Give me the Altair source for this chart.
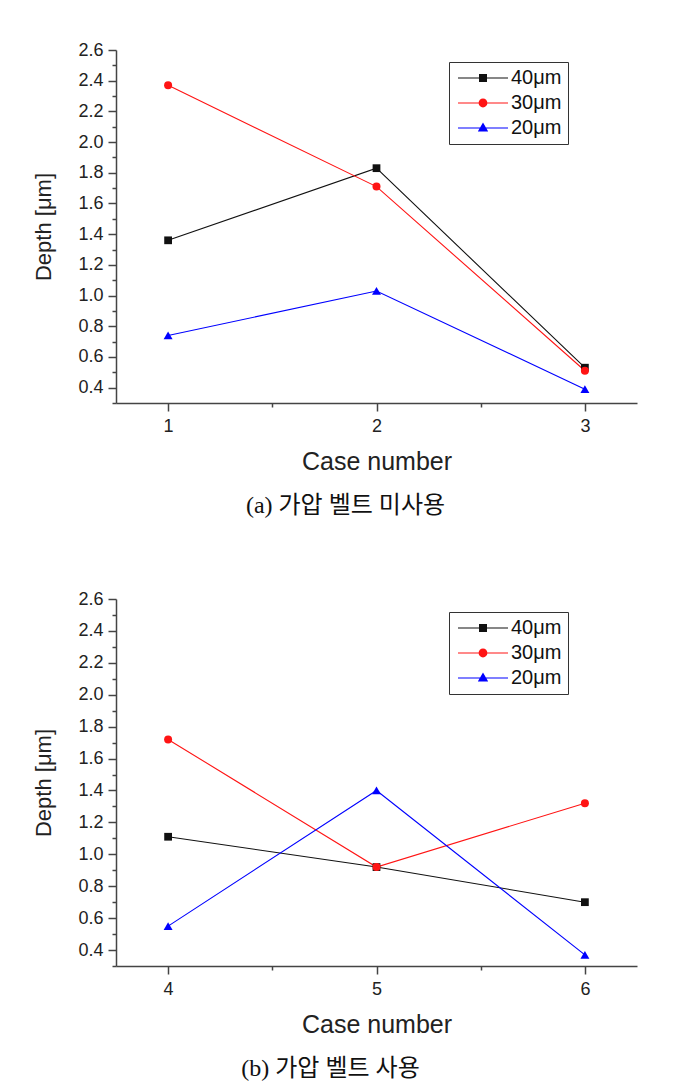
import altair as alt
import pandas as pd

# ---------------- data ----------------
series = ["40μm", "30μm", "20μm"]
series_colors = ["#111111", "#ff1414", "#0000ff"]
marker_shapes = ["square", "circle", "triangle-up"]
marker_sizes = [60, 64, 80]
# legend symbol: a thin horizontal bar (the line) plus the marker
legend_shapes = [
    "M-6.25,-0.14H6.25V0.14H-6.25ZM-1,-1H1V1H-1Z",
    "M-6.25,-0.14H6.25V0.14H-6.25ZM1.1,0A1.1,1.1,0,1,1,-1.1,0A1.1,1.1,0,1,1,1.1,0Z",
    "M-6.25,-0.14H6.25V0.14H-6.25ZM0,-1.35L1.3,0.9H-1.3Z",
]

cases_a = [1, 2, 3]
depth_a_40 = [1.36, 1.83, 0.53]
depth_a_30 = [2.37, 1.71, 0.51]
depth_a_20 = [0.74, 1.03, 0.39]

cases_b = [4, 5, 6]
depth_b_40 = [1.11, 0.92, 0.70]
depth_b_30 = [1.72, 0.92, 1.32]
depth_b_20 = [0.55, 1.40, 0.37]

x_domain_a = [0.75, 3.25]
x_domain_b = [3.75, 6.25]
x_minor_a = [1.5, 2.5]
x_minor_b = [4.5, 5.5]

y_domain = [0.3, 2.6]
y_major = [0.4, 0.6, 0.8, 1.0, 1.2, 1.4, 1.6, 1.8, 2.0, 2.2, 2.4, 2.6]
y_minor = [0.3, 0.5, 0.7, 0.9, 1.1, 1.3, 1.5, 1.7, 1.9, 2.1, 2.3, 2.5]

caption_a = "(a) 가압 벨트 미사용"
caption_b = "(b) 가압 벨트 사용"

SANS = "Liberation Sans"
SERIF = "Liberation Serif, Noto Sans CJK KR"
AX = "#444444"
TXT = "#222222"


def panel(cases, d40, d30, d20, xdom, xminor, height, caption, cap_dx, leg_y):
    df = pd.DataFrame({
        "case": cases * 3,
        "depth": d40 + d30 + d20,
        "series": [s for s in series for _ in cases],
    })
    xs = alt.Scale(domain=xdom, nice=False, zero=False)
    ys = alt.Scale(domain=y_domain, nice=False, zero=False)

    x_main = alt.X("case:Q", scale=xs, axis=alt.Axis(
        values=cases, format="d", title="Case number", grid=False, orient="bottom",
        tickSize=8, tickWidth=1.5, tickColor=AX, domainColor=AX, domainWidth=1.5,
        labelFont=SANS, labelFontSize=18, labelColor=TXT, labelPadding=6,
        titleFont=SANS, titleFontSize=25, titleFontWeight="normal", titleColor=TXT,
        titlePadding=14))
    y_main = alt.Y("depth:Q", scale=ys, axis=alt.Axis(
        values=y_major, format=".1f", title="Depth [μm]", grid=False, orient="left",
        tickSize=8, tickWidth=1.5, tickColor=AX, domainColor=AX, domainWidth=1.5,
        labelFont=SANS, labelFontSize=18, labelColor=TXT, labelPadding=5,
        titleFont=SANS, titleFontSize=22, titleFontWeight="normal", titleColor=TXT,
        titlePadding=22))

    base = alt.Chart(df)
    line_layers = []
    pt_layers = []
    for i, (s, c, shp, sz) in enumerate(zip(series, series_colors, marker_shapes, marker_sizes)):
        sub = base.transform_filter(alt.datum.series == s)
        if i == 0:
            line_layers.append(sub.mark_line(strokeWidth=1.1, color=c).encode(x=x_main, y=y_main))
        else:
            line_layers.append(sub.mark_line(strokeWidth=1.1, color=c).encode(
                x=alt.X("case:Q", scale=xs, axis=None),
                y=alt.Y("depth:Q", scale=ys, axis=None)))
        pt_layers.append(
            sub.mark_point(filled=True, size=sz, opacity=1, shape=shp, color=c).encode(
                x=alt.X("case:Q", scale=xs, axis=None),
                y=alt.Y("depth:Q", scale=ys, axis=None),
            )
        )
    minor_x = alt.Chart(pd.DataFrame({"m": xminor})).mark_point(opacity=0).encode(
        x=alt.X("m:Q", scale=xs, axis=alt.Axis(
            values=xminor, labels=False, domain=False, title=None, grid=False,
            orient="bottom", tickSize=4, tickWidth=1.5, tickColor=AX)),
    )
    minor_y = alt.Chart(pd.DataFrame({"m": y_minor})).mark_point(opacity=0).encode(
        y=alt.Y("m:Q", scale=ys, axis=alt.Axis(
            values=y_minor, labels=False, domain=False, title=None, grid=False,
            orient="left", tickSize=4, tickWidth=1.5, tickColor=AX)),
    )
    leg = alt.Legend(
        orient="none", legendX=333, legendY=leg_y, title=None,
        padding=6, strokeColor="#333333", fillColor="white",
        labelFont=SANS, labelFontSize=20, labelColor="#111111",
        symbolSize=64, symbolStrokeWidth=0, symbolOffset=18,
        labelOffset=18, rowPadding=5)
    legend_layer = base.transform_filter("false").mark_point(
        filled=True, size=64, opacity=1).encode(
        color=alt.Color("series:N", scale=alt.Scale(domain=series, range=series_colors),
                        legend=leg),
        shape=alt.Shape("series:N", scale=alt.Scale(domain=series, range=legend_shapes),
                        legend=leg),
    )

    return alt.layer(*line_layers, *pt_layers, minor_x, minor_y, legend_layer).resolve_axis(
        x="independent", y="independent"
    ).properties(
        width=521, height=height,
        title=alt.TitleParams(caption, orient="bottom", anchor="middle", frame="group",
                              font=SERIF, fontSize=24, fontWeight="normal",
                              color="#111111", offset=20, dx=cap_dx),
    )


top = panel(cases_a, depth_a_40, depth_a_30, depth_a_20, x_domain_a, x_minor_a, 353,
            caption_a, -31, 12)
bottom = panel(cases_b, depth_b_40, depth_b_30, depth_b_20, x_domain_b, x_minor_b, 367,
               caption_b, -46, 13)

chart = alt.vconcat(top, bottom, spacing=72).resolve_scale(
    color="independent", shape="independent"
).resolve_legend(color="independent", shape="independent").properties(
    padding={"top": 33, "left": 24, "right": 5, "bottom": 0},
    background="white",
).configure_view(stroke=None)

chart.save("out.html", embed_options={"renderer": "svg", "actions": False})
